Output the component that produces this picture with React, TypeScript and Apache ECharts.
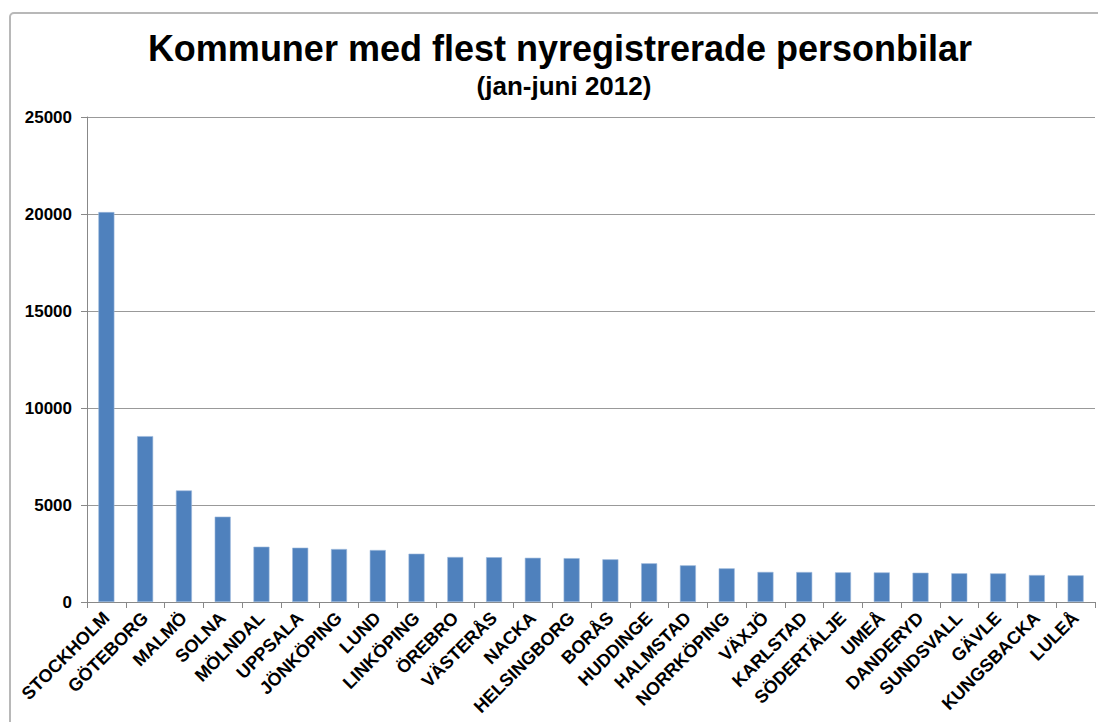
import React, { useEffect, useRef } from "react";
import * as echarts from "echarts";

const categories = [
  "STOCKHOLM", "GÖTEBORG", "MALMÖ", "SOLNA", "MÖLNDAL", "UPPSALA", "JÖNKÖPING",
  "LUND", "LINKÖPING", "ÖREBRO", "VÄSTERÅS", "NACKA", "HELSINGBORG", "BORÅS",
  "HUDDINGE", "HALMSTAD", "NORRKÖPING", "VÄXJÖ", "KARLSTAD", "SÖDERTÄLJE",
  "UMEÅ", "DANDERYD", "SUNDSVALL", "GÄVLE", "KUNGSBACKA", "LULEÅ",
];
const values = [
  20100, 8550, 5750, 4400, 2850, 2800, 2730, 2680, 2490, 2320, 2310, 2280, 2260,
  2200, 1995, 1890, 1735, 1550, 1545, 1530, 1525, 1510, 1480, 1475, 1390, 1375,
];
const yTicks = [0, 5000, 10000, 15000, 20000, 25000];
const titleText = "Kommuner med flest nyregistrerade personbilar";
const subtitleText = "(jan-juni 2012)";

export default function App() {
  const ref = useRef<HTMLDivElement>(null);
  useEffect(() => {
    const chart = echarts.init(ref.current!, null, { renderer: "svg" });
    const font = "'Liberation Sans', Arial, sans-serif";
    chart.setOption({
      animation: false,
      backgroundColor: "#ffffff",
      textStyle: { fontFamily: font },
      title: [
        {
          text: titleText,
          left: 555,
          textAlign: "center",
          top: 25,
          textStyle: { fontSize: 36, fontWeight: "bold", color: "#000", fontFamily: font },
        },
        {
          text: subtitleText,
          left: 559,
          textAlign: "center",
          top: 68,
          textStyle: { fontSize: 26, fontWeight: "bold", color: "#000", fontFamily: font },
        },
      ],
      graphic: [
        {
          type: "rect",
          shape: { x: 10, y: 13, width: 1200, height: 800, r: 4 },
          style: { fill: "none", stroke: "#b8b8b8", lineWidth: 2 },
          silent: true,
        },
      ],
      grid: { left: 87, right: 3, top: 117, bottom: 120, containLabel: false },
      xAxis: {
        type: "category",
        data: categories,
        boundaryGap: true,
        axisLine: { lineStyle: { color: "#888", width: 1 } },
        axisTick: { show: true, length: 6, lineStyle: { color: "#888" } },
        axisLabel: {
          rotate: 45,
          interval: 0,
          fontSize: 18,
          fontWeight: "bold",
          color: "#000",
          margin: 13,
          fontFamily: font,
        },
      },
      yAxis: {
        type: "value",
        min: yTicks[0],
        max: yTicks[yTicks.length - 1],
        interval: 5000,
        axisLine: { show: true, lineStyle: { color: "#888" } },
        axisTick: { show: true, length: 6, lineStyle: { color: "#888" } },
        splitLine: { lineStyle: { color: "#999", width: 1 } },
        axisLabel: {
          fontSize: 17,
          fontWeight: "bold",
          color: "#000",
          margin: 15,
          fontFamily: font,
          formatter: (v: number) => String(v),
        },
      },
      series: [
        {
          type: "bar",
          data: values,
          barWidth: 16,
          itemStyle: { color: "#4F81BD", borderColor: "#9CB8DB", borderWidth: 0.6 },
        },
      ],
    });
    return () => chart.dispose();
  }, []);
  return (
    <div
      ref={ref}
      style={{ position: "absolute", left: 0, top: 0, width: 1098, height: 722 }}
    />
  );
}
